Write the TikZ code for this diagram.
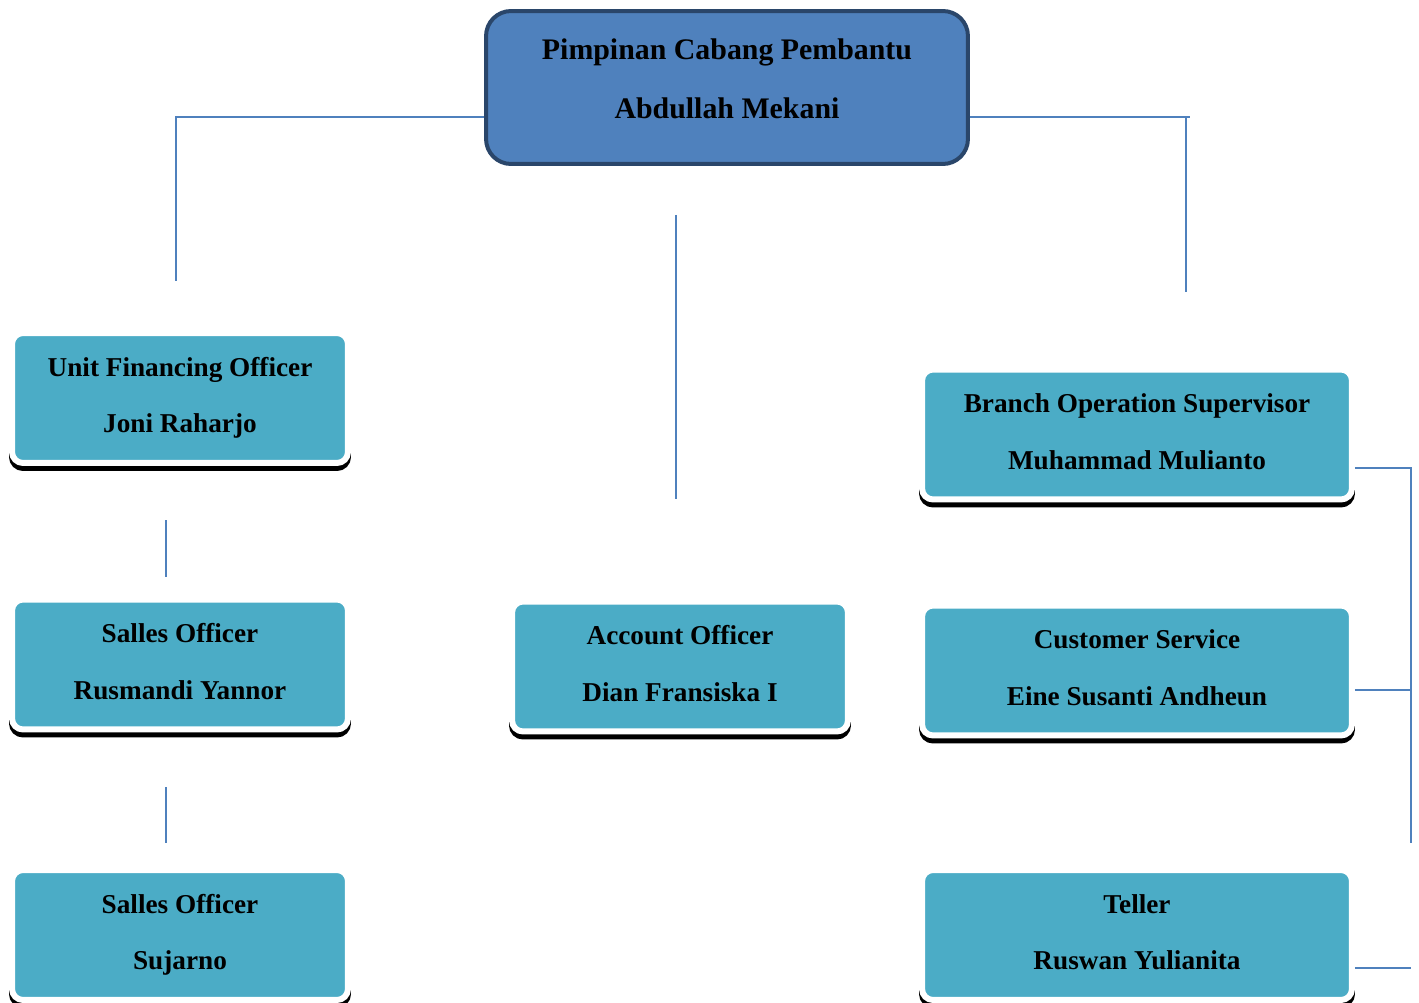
\documentclass[tikz,border=0pt]{standalone}
\usepackage{fontspec}
\setmainfont{Liberation Serif}
\definecolor{headblue}{RGB}{79,129,189}
\definecolor{headline}{RGB}{42,70,106}
\definecolor{staffteal}{RGB}{75,172,198}

\begin{document}
\begin{tikzpicture}[x=0.02cm,y=-0.02cm,
    head/.style={rectangle,rounded corners=0.5cm,fill=headblue,draw=headline,
                 line width=0.08cm,minimum width=9.64cm,minimum height=3.06cm,
                 align=center,text depth=10pt,
                 font=\bfseries\fontsize{17}{34}\selectfont},
    staff/.style={rectangle,rounded corners=0.22cm,fill=staffteal,draw=white,
                  line width=0.12cm,minimum width=6.72cm,minimum height=2.6cm,
                  align=center,text depth=3.4pt,
                  font=\bfseries\fontsize{15.5}{32}\selectfont,
                  preaction={fill=black,draw=black,transform canvas={yshift=-0.1cm}}},
    wide/.style={staff,minimum width=8.6cm},
    link/.style={draw=headblue,line width=0.04cm}]
  \useasboundingbox (0,0) rectangle (1419,1003);

  \node[head]  (top)    at (727,87.5)  {Pimpinan Cabang Pembantu\\Abdullah Mekani};
  \node[staff] (ufo)    at (180,398)   {Unit Financing Officer\\Joni Raharjo};
  \node[staff] (so1)    at (180,664.5) {Salles Officer\\Rusmandi Yannor};
  \node[staff] (so2)    at (180,935)   {Salles Officer\\Sujarno};
  \node[staff] (ao)     at (680,666.5) {Account Officer\\Dian Fransiska I};
  \node[wide]  (bos)    at (1137,434.5) {Branch Operation Supervisor\\Muhammad Mulianto};
  \node[wide]  (cs)     at (1137,670.5) {Customer Service\\Eine Susanti Andheun};
  \node[wide]  (teller) at (1137,935)   {Teller\\Ruswan Yulianita};

  \coordinate (ufoIn)  at (176,281);
  \coordinate (bosIn)  at (1186,292);
  \coordinate (bosEnd) at (1190,117);
  \coordinate (aoTop)  at (676,215);
  \coordinate (aoIn)   at (676,499);
  \coordinate (so1Top) at (166,520);
  \coordinate (so1In)  at (166,577);
  \coordinate (so2Top) at (166,787);
  \coordinate (so2In)  at (166,843);
  \coordinate (rail)   at (1411,843);

  \draw[link] (top.west |- 0,117) -| (ufoIn);
  \draw[link] (top.east |- 0,117) -- (bosEnd);
  \draw[link] (bosIn |- bosEnd) -- (bosIn);
  \draw[link] (aoTop) -- (aoIn);
  \draw[link] (so1Top) -- (so1In);
  \draw[link] (so2Top) -- (so2In);
  \draw[link] (bos.east |- 0,468) -| (rail);
  \draw[link] (cs.east |- 0,690) -- (rail |- 0,690);
  \draw[link] (teller.east |- 0,968) -- (rail |- 0,968);
\end{tikzpicture}
\end{document}
